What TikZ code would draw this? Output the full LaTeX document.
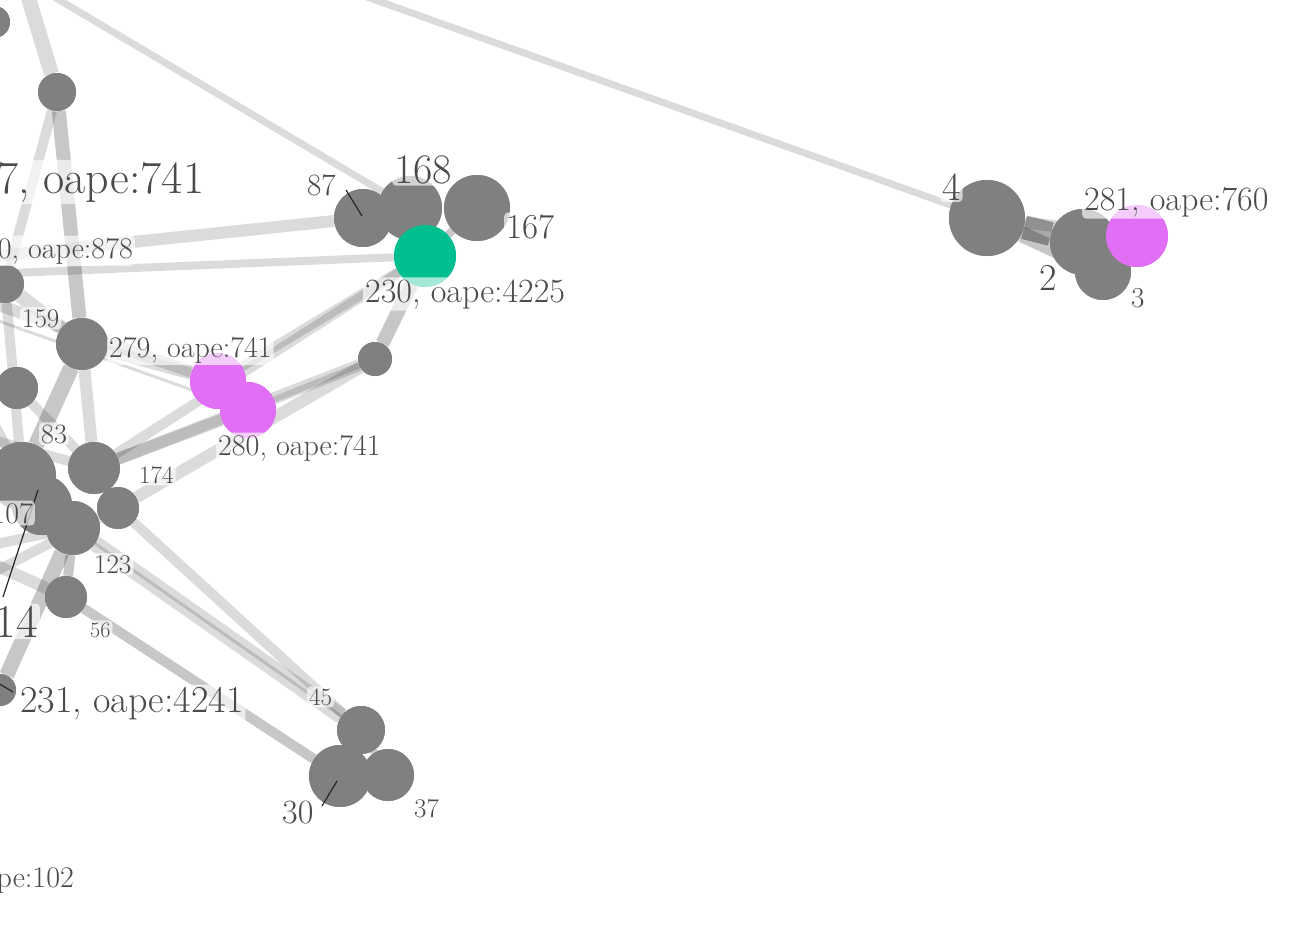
\documentclass[tikz,border=0pt]{standalone}
\usepackage{fontspec}
\definecolor{nodegrey}{HTML}{808080}
\definecolor{teal}{HTML}{00BF8F}
\definecolor{violet}{HTML}{E16FF5}
\definecolor{labtext}{HTML}{4A4A4A}
\newcommand\fsz[1]{\fontsize{#1}{#1}\selectfont}
\begin{document}
\begin{tikzpicture}[x=1pt,y=-1pt,
  gn/.style={circle,fill=nodegrey,inner sep=0pt,minimum size=#1},
  tn/.style={circle,fill=teal,inner sep=0pt,minimum size=#1},
  vn/.style={circle,fill=violet,inner sep=0pt,minimum size=#1},
  lt/.style={draw=black,draw opacity=0.14,line width=#1},
  md/.style={draw=black,draw opacity=0.22,line width=#1},
  dk/.style={draw=black,draw opacity=0.34,line width=#1},
  lab/.style={fill=white,fill opacity=0.65,text opacity=1,text=labtext,
    rounded corners=4pt,inner sep=2pt,font=\fsz{#1}},
  lead/.style={draw=black!85,line width=1.2pt}]
\useasboundingbox (0,0) rectangle (1315,935);
\clip (0,0) rectangle (1315,935);

% nodes
\node[gn=32] (tl) at (-6,22) {};
\node[gn=38] (a) at (57,92) {};
\node[gn=38] (b) at (5,284) {};
\node[gn=52] (c) at (82,344) {};
\node[gn=42] (d) at (17,388) {};
\node[gn=68] (k1) at (22,476) {};
\node[gn=60] (k5) at (42,505) {};
\node[gn=52] (k2) at (94,468) {};
\node[gn=42] (k3) at (118,508) {};
\node[gn=54] (k4) at (73,528) {};
\node[gn=42] (f) at (66,597) {};
\node[gn=32] (g) at (0,690) {};
\node[gn=58] (n87) at (363,218) {};
\node[gn=66] (n167) at (477,208) {};
\node[gn=64] (n168) at (410,208) {};
\node[tn=62] (n230) at (425,256) {};
\node[gn=34] (s) at (375,359) {};
\node[vn=56] (m279) at (218,381) {};
\node[vn=56] (m280) at (248,410) {};
\node[gn=76] (n4) at (987,218) {};
\node[gn=66] (n2) at (1083,242) {};
\node[gn=56] (n3) at (1103,272) {};
\node[vn=62] (m281) at (1137,236) {};
\node[gn=48] (n45) at (361,730) {};
\node[gn=62] (n30) at (340,776) {};
\node[gn=52] (n37) at (388,775) {};

% endpoints beyond the frame
\coordinate (oA) at (252,-44);
\coordinate (oB) at (-20,-47);
\coordinate (oC) at (20,-30);
\coordinate (oD) at (-60,262);
\coordinate (oE) at (-60,276);
\coordinate (oG) at (-60,285);
\coordinate (oH) at (-60,300);
\coordinate (oI) at (-80,420);
\coordinate (oJ) at (-80,560);
\coordinate (oK) at (-60,540);
\coordinate (oL) at (-60,600);
\coordinate (oM) at (-40,360);

% connectors
\draw[lt=7] (oA) -- (n4);
\draw[lt=7] (oB) -- (n168);
\draw[lt=15] (oC) -- (a);
\draw[lt=10] (a) -- (b);
\draw[md=14] (a) -- (c);
\draw[lt=12] (oD) -- (n87);
\draw[lt=8] (oE) -- (n230);
\draw[lt=12] (oG) -- (m279);
\draw[lt=3] (oH) -- (m280);
\draw[lt=12] (c) -- (m279);
\draw[lt=14] (b) -- (c);
\draw[lt=10] (b) -- (k1);
\draw[md=16] (c) -- (k1);
\draw[lt=12] (c) -- (k2);
\draw[lt=10] (d) -- (k2);
\draw[lt=10] (oM) -- (k1);
\draw[lt=10] (oI) -- (k2);
\draw[lt=10] (oJ) -- (k4);
\draw[lt=12] (oK) -- (f);
\draw[lt=10] (oL) -- (k3);
\draw[lt=10] (m279) -- (n230);
\draw[lt=10] (k2) -- (n230);
\draw[lt=12] (k2) -- (m280);
\draw[lt=12] (k2) -- (s);
\draw[lt=6] (m280) -- (s);
\draw[lt=12] (k3) -- (s);
\draw[md=14] (n230) -- (s);
\draw[md=8] (n167) -- (n230);
\draw[lt=16] (k4) -- (n45);
\draw[lt=10] (k3) -- (n45);
\draw[lt=3] (k4) -- (n45);
\draw[md=10] (f) -- (n30);
\draw[md=15] (k4) -- (g);
\draw[md=10] (f) -- (k4);
\draw[lt=12] (n4) -- (m281);
\draw[dk=24] (n4) -- (n2);
\draw[md=16] (n4) -- (n3);
\draw[md=8] (n45) -- (n37);

% node discs drawn over the connectors
\foreach \n/\d in {tl/32,a/38,b/38,c/52,d/42,k1/68,k5/60,k2/52,k3/42,k4/54,f/42,g/32,
  n87/58,n167/66,n168/64,s/34,n4/76,n2/66,n3/56,n45/48,n30/62,n37/52}
  \fill[nodegrey] (\n.center) circle ({\d/2});
\fill[teal] (n230.center) circle (31);
\fill[violet] (m279.center) circle (28);
\fill[violet] (m280.center) circle (28);
\fill[violet] (m281.center) circle (31);

% leader lines
\coordinate (t87) at (346,190);
\coordinate (p87) at (362,216);
\draw[lead] (t87) -- (p87);
\coordinate (t30) at (322,806);
\coordinate (p30) at (337,781);
\draw[lead] (t30) -- (p30);
\coordinate (t14) at (3,597);
\coordinate (p14) at (38,490);
\draw[lead] (t14) -- (p14);
\coordinate (t231) at (13,692);
\coordinate (p231) at (-2,683);
\draw[lead] (t231) -- (p231);

% labels
\node[lab=25,anchor=base west] (l18) at (2,-4) {18};
\node[lab=46,anchor=base west] (l7) at (-5,193) {7, oape:741};
\node[lab=30,anchor=base east] (l878) at (135,258) {0, oape:878};
\node[lab=27,anchor=base west] (l159) at (20,327) {159};
\node[lab=30,anchor=base west] (l279) at (107,357) {279, oape:741};
\node[lab=28,anchor=base west] (l83) at (39,443) {83};
\node[lab=25,anchor=base west] (l174) at (137,483) {174};
\node[lab=30,anchor=base east] (l107) at (35,523) {107};
\node[lab=27,anchor=base west] (l123) at (92,573) {123};
\node[lab=47,anchor=base east] (l14) at (40,637) {14};
\node[lab=22,anchor=base west] (l56) at (88,637) {56};
\node[lab=38,anchor=base west] (l231) at (18,712) {231, oape:4241};
\node[lab=30,anchor=base east] (l102) at (76,887) {oape:102};
\node[lab=31,anchor=base west] (l87) at (305,195) {87};
\node[lab=42,anchor=base west] (l168) at (392,183) {168};
\node[lab=35,anchor=base west] (l167) at (504,238) {167};
\node[lab=34,anchor=base west] (l230) at (363,302) {230, oape:4225};
\node[lab=30,anchor=base west] (l280) at (216,455) {280, oape:741};
\node[lab=40,anchor=base west] (l4) at (940,200) {4};
\node[lab=34,anchor=base west] (l281) at (1082,210) {281, oape:760};
\node[lab=38,anchor=base west] (l2) at (1037,290) {2};
\node[lab=29,anchor=base west] (l3) at (1129,307) {3};
\node[lab=25,anchor=base west] (l45) at (307,705) {45};
\node[lab=34,anchor=base west] (l30) at (280,823) {30};
\node[lab=27,anchor=base west] (l37) at (412,817) {37};
\end{tikzpicture}
\end{document}
